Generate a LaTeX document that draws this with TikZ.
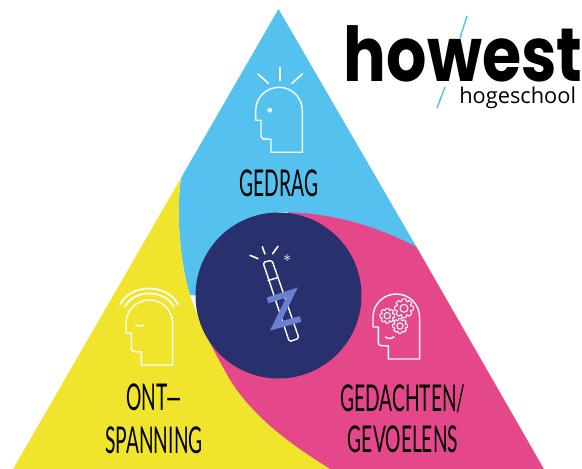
\documentclass[tikz,border=0pt]{standalone}
\usepackage{fontspec}
\usepackage{xcolor}
\definecolor{swirlBlue}{HTML}{54C1EE}
\definecolor{swirlYellow}{HTML}{F0E42C}
\definecolor{swirlPink}{HTML}{E5478B}
\definecolor{swirlNavy}{HTML}{29306E}
\definecolor{wandBlue}{HTML}{6A7FD0}
\newfontfamily\handfont[FakeStretch=0.52]{Lato}
\newfontfamily\logofont[FakeStretch=0.84]{Poppins}
\newfontfamily\subfont{Open Sans}
\usetikzlibrary{calc}
\tikzset{
  iconline/.style={white, line width=0.8pt, line join=round},
  rayline/.style={white, line width=0.9pt, line cap=round},
  handlabel/.style={inner sep=0pt, text=black, font=\handfont\fontsize{21}{21}\selectfont}
}

\begin{document}
\begin{tikzpicture}[x=0.02cm,y=-0.02cm]
  \useasboundingbox (0,0) rectangle (582,469);
  \clip (0,0) rectangle (582,469);
  % the three parts of the triangle
  \fill[swirlPink] (416.5,247) -- (548.5,477) -- (250,477) -- (205,330) -- (230,250) -- (300,205) -- (390,220) -- cycle;
  \fill[swirlBlue] (278.5,9) -- (416.5,247) .. controls (375,225) and (330,212) .. (278,212)
    -- (240,300) -- (190,295) .. controls (182,270) and (175,220) .. (181,178) -- cycle;
  \fill[swirlYellow] (181,178) .. controls (175,220) and (182,270) .. (190,295)
    .. controls (198,318) and (207,340) .. (230,380)
    .. controls (255,420) and (295,447) .. (330,469) -- (330,477) -- (8.5,477) -- cycle;
  \fill[swirlNavy] (278.5,295.5) circle (83);
  % three heads, same outline
  \foreach \ox/\oy in {255.7/87.3, 126/300, 373/294} {
    \begin{scope}[shift={(\ox,\oy)}]
      \draw[iconline] (15.3,65) -- (46.6,65) -- (46.6,23.3)
        .. controls (46.6,10.4) and (36.2,0) .. (23.3,0)
        .. controls (10.4,0) and (0,10.4) .. (0,23.3)
        -- (0,33) -- (5.3,33) -- (5.3,49) -- (7,51.5) -- (15.3,52) -- cycle;
    \end{scope}
  }
  % gedrag icon
  \foreach \xa/\ya/\xb/\yb in {280/67.3/280/80.7, 258/74/268.3/83.3, 302.3/74/292/83.3} {
    \draw[rayline] (\xa,\ya) -- (\xb,\yb);
  }
  \draw[iconline] (269.7,110.3) circle (1.9);
  % ontspanning icon
  \draw[iconline, line width=1pt] (120,305) .. controls (130,283) and (168,283) .. (178.3,305);
  \draw[iconline, line width=1pt] (125,307) .. controls (133,289) and (165,289) .. (174,307);
  \draw[iconline] (135.7,324.5) .. controls (138,326.5) and (142,326.5) .. (144,325);
  % gedachten icon, cogs
  \foreach \cx/\cy/\rr in {387.3/315.7/7.5, 404/308.3/9.5, 400/326/7.5} {
    \begin{scope}[shift={(\cx,\cy)}]
      \draw[iconline, line width=0.6pt] (0,0) circle (\rr*0.42);
      \foreach \a in {0,45,...,315} {
        \draw[iconline, line width=0.6pt] (\a-11:\rr) -- (\a+11:\rr) -- (\a+20:\rr*0.76) -- (\a+25:\rr*0.76) -- (\a+34:\rr);
      }
    \end{scope}
  }
  \draw[iconline] (385,337) .. controls (388,339) and (392,339) .. (394.3,336.5);
  % wand with the Z on top
  \draw[iconline, rounded corners=1pt] (263,262.3) -- (272,260.3) -- (299,338.3) -- (289.3,341.7) -- cycle;
  \draw[iconline] (267.7,280.7) -- (277.3,277.7);
  \draw[wandBlue, line width=3.4pt, line join=miter] (267.5,300.5) -- (292,292.5) -- (275.5,326) -- (300.5,319);
  \foreach \xa/\ya/\xb/\yb in {250/255.3/258/258.7, 262.3/246.7/265/254, 278/246.3/272.7/253.7} {
    \draw[rayline] (\xa,\ya) -- (\xb,\yb);
  }
  \node[inner sep=0pt, text=white, font=\fontsize{9}{9}\selectfont] (sparkle) at (287.3,261) {*};
  % labels
  \node[handlabel] (gedrag) at (279,183.5) {GEDRAG};
  \node[handlabel] (ont) at (154,397.5) {ONT—};
  \node[handlabel] (spanning) at (154,440) {SPANNING};
  \node[handlabel] (gedachten) at (403,398.5) {GEDACHTEN/};
  \node[handlabel] (gevoelens) at (403,439) {GEVOELENS};
  % logo
  \node[anchor=base west, inner sep=0pt, text=black, font=\logofont\bfseries\fontsize{43}{43}\selectfont] (howest) at (343.5,82) {howest};
  \node[anchor=base west, inner sep=0pt, text=black, font=\subfont\fontsize{12.4}{12.4}\selectfont] (hogeschool) at (459,104) {hogeschool};
  \draw[swirlBlue, line width=0.8pt] (467,16) -- (460,38);
  \draw[swirlBlue, line width=0.8pt] (445,87) -- (437,108);
\end{tikzpicture}
\end{document}
